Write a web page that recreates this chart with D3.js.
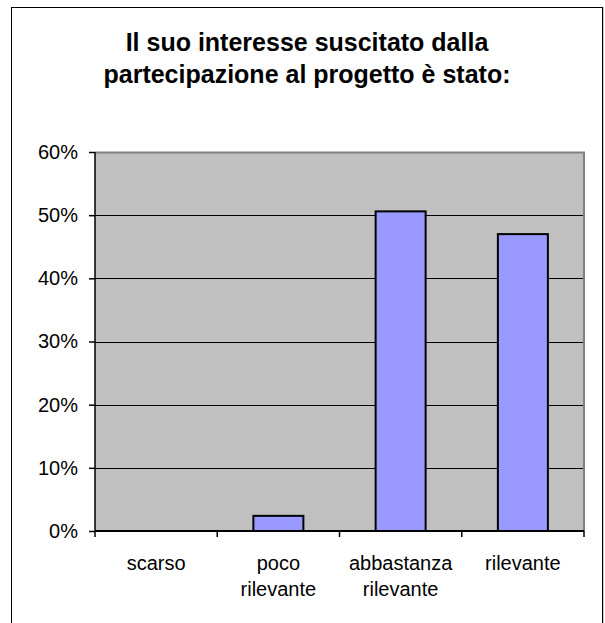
<!DOCTYPE html>
<html><head><meta charset="utf-8">
<script src="https://cdn.jsdelivr.net/npm/d3@7"></script>
<style>body{margin:0;background:#fff}svg{display:block}</style>
</head><body>
<script>
const categories = [["scarso"], ["poco", "rilevante"], ["abbastanza", "rilevante"], ["rilevante"]];
const values = [0, 0.024, 0.506, 0.47];
const yTicks = [0, 0.1, 0.2, 0.3, 0.4, 0.5, 0.6];
const titleLines = ["Il suo interesse suscitato dalla", "partecipazione al progetto è stato:"];

const W = 605, H = 623;
const FONT = "Liberation Sans, Arial, sans-serif";
const svg = d3.select("body").append("svg").attr("width", W).attr("height", H);
svg.append("rect").attr("x", 11.5).attr("y", 7.5).attr("width", 591).attr("height", 620).attr("fill", "#fff").attr("stroke", "#000");
svg.append("line").attr("x1", 603.5).attr("x2", 603.5).attr("y1", 7).attr("y2", H).attr("stroke", "#d0d0d0");

const L = 95, R = 584, T = 152, B = 531;
const x = d3.scaleBand().domain(d3.range(categories.length)).range([L, R]).paddingInner(0).paddingOuter(0);
const y = d3.scaleLinear().domain([0, 0.6]).range([B, T]);

svg.append("rect").attr("x", L).attr("y", T).attr("width", R - L).attr("height", B - T).attr("fill", "#c0c0c0");
svg.selectAll(".grid").data(yTicks.slice(1, -1)).join("line")
  .attr("x1", L).attr("x2", R).attr("y1", d => Math.round(y(d)) + 0.5).attr("y2", d => Math.round(y(d)) + 0.5)
  .attr("stroke", "#000").attr("stroke-width", 1);
svg.append("path").attr("d", `M${L},${T + 0.5}H${R}V${B}`).attr("fill", "none").attr("stroke", "#808080").attr("stroke-width", 2);

const bw = 50;
svg.selectAll(".bar").data(values).join("rect")
  .attr("x", (d, i) => x(i) + x.bandwidth() / 2 - bw / 2)
  .attr("y", d => y(d))
  .attr("width", bw)
  .attr("height", d => B - y(d))
  .attr("fill", "#9999ff").attr("stroke", "#000").attr("stroke-width", 2)
  .attr("display", d => d > 0 ? null : "none");

const yAxis = d3.axisLeft(y).tickValues(yTicks).tickFormat(d3.format(".0%")).tickSize(6).tickPadding(11);
const gy = svg.append("g").attr("transform", `translate(${L},0)`).call(yAxis);
gy.select(".domain").attr("stroke", "#000").attr("stroke-width", 1.5).attr("d", `M0,${T}V${B}`);
gy.selectAll(".tick line").attr("stroke", "#000").attr("stroke-width", 1.5);
gy.selectAll("text").attr("font-family", FONT).attr("font-size", 20).attr("fill", "#000");

const xTickPos = d3.range(categories.length + 1).map(i => L + i * x.bandwidth());
const gx = svg.append("g");
gx.append("line").attr("x1", L).attr("x2", R).attr("y1", B).attr("y2", B).attr("stroke", "#000").attr("stroke-width", 2);
gx.selectAll(".xt").data(xTickPos).join("line")
  .attr("x1", d => d).attr("x2", d => d).attr("y1", B).attr("y2", B + 6).attr("stroke", "#000").attr("stroke-width", 1.5);
gx.selectAll(".xl").data(categories).join("text")
  .attr("x", (d, i) => x(i) + x.bandwidth() / 2)
  .attr("y", 570)
  .attr("text-anchor", "middle")
  .attr("font-family", FONT).attr("font-size", 20).attr("fill", "#000")
  .each(function(d) {
    d3.select(this).selectAll("tspan").data(d).join("tspan")
      .attr("x", d3.select(this).attr("x")).attr("dy", (t, j) => j === 0 ? 0 : 26).text(t => t);
  });

svg.append("text").attr("x", 307).attr("y", 51).attr("text-anchor", "middle")
  .attr("font-family", FONT).attr("font-weight", "bold").attr("font-size", 25).attr("fill", "#000")
  .selectAll("tspan").data(titleLines).join("tspan").attr("x", 307).attr("dy", (t, j) => j === 0 ? 0 : 32).text(t => t);
</script>
</body></html>
